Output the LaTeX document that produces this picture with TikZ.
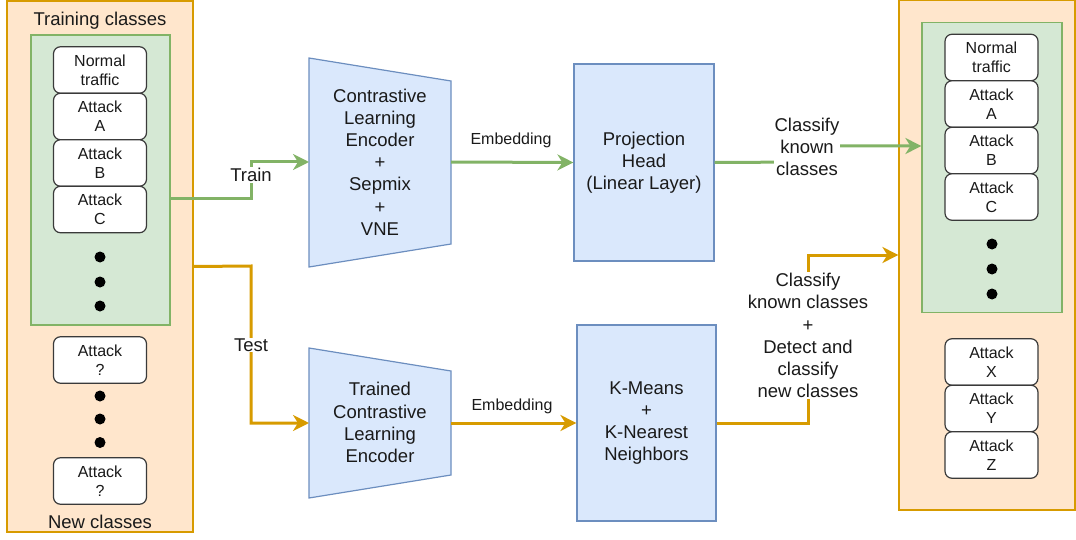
\documentclass[tikz,border=0pt]{standalone}
\usepackage{fontspec}
\setmainfont{Liberation Sans}
\usetikzlibrary{arrows.meta}
\definecolor{ofill}{HTML}{FFE6CC}
\definecolor{ostroke}{HTML}{D79B00}
\definecolor{gfill}{HTML}{D5E8D4}
\definecolor{gstroke}{HTML}{82B366}
\definecolor{bfill}{HTML}{DAE8FC}
\definecolor{bstroke}{HTML}{6C8EBF}
\definecolor{txt}{HTML}{1A1A1A}
\definecolor{cls}{HTML}{3A3A3A}
\tikzset{
  big/.style={font=\fontsize{18.5}{22.2}\selectfont, text=txt, align=center},
  small/.style={font=\fontsize{16}{19.2}\selectfont, text=txt, align=center},
  classbox/.style={small, draw=cls, line width=1.2pt, fill=white, rounded corners=7pt,
    minimum width=93pt, minimum height=46.5pt, inner sep=0pt},
  dotnode/.style={circle, fill=black, minimum size=11pt, inner sep=0pt},
  outerbox/.style={draw=ostroke, fill=ofill, line width=1.2pt, inner sep=0pt},
  greenbox/.style={draw=gstroke, fill=gfill, line width=1.2pt, inner sep=0pt},
  bluebox/.style={big, draw=bstroke, fill=bfill, line width=1.2pt, inner sep=0pt},
  tip/.style={-{Stealth[length=16pt,width=16pt,inset=5pt]}},
  garrow/.style={tip, draw=gstroke, line width=3pt},
  oarrow/.style={tip, draw=ostroke, line width=3pt},
  lbl/.style={big, fill=white, inner sep=1pt},
}
\begin{document}
\begin{tikzpicture}[x=1pt,y=-1pt]
\useasboundingbox (0,0) rectangle (1076,540);

% ---------- left column ----------
\node[outerbox, minimum width=186pt, minimum height=531pt] (L) at (100,266.5) {};
\node[greenbox, minimum width=139pt, minimum height=290pt] (LG) at (100.5,180) {};
\node[big] (trainlbl) at (100,21) {Training classes};
\node[big] (newlbl) at (100,522) {New classes};
\node[classbox] (ln) at (100,70) {Normal\\traffic};
\node[classbox] (la) at (100,116.5) {Attack\\A};
\node[classbox] (lb) at (100,163) {Attack\\B};
\node[classbox] (lc) at (100,209.5) {Attack\\C};
\node[dotnode] (ld1) at (100,257) {};
\node[dotnode] (ld2) at (100,282) {};
\node[dotnode] (ld3) at (100,306) {};
\node[classbox] (lq1) at (100,360) {Attack\\?};
\node[dotnode] (ld4) at (100,396) {};
\node[dotnode] (ld5) at (100,419) {};
\node[dotnode] (ld6) at (100,442.5) {};
\node[classbox] (lq2) at (100,481) {Attack\\?};

% ---------- right column ----------
\node[outerbox, minimum width=176pt, minimum height=510pt] (R) at (987,255) {};
\node[greenbox, minimum width=140pt, minimum height=290pt] (RG) at (992,167.5) {};
\node[classbox] (rn) at (991.5,57.5) {Normal\\traffic};
\node[classbox] (ra) at (991.5,104) {Attack\\A};
\node[classbox] (rb) at (991.5,150.5) {Attack\\B};
\node[classbox] (rc) at (991.5,197) {Attack\\C};
\node[dotnode] (rd1) at (992,244) {};
\node[dotnode] (rd2) at (992,269) {};
\node[dotnode] (rd3) at (992,294) {};
\node[classbox] (rx) at (991.5,362) {Attack\\X};
\node[classbox] (ry) at (991.5,408.5) {Attack\\Y};
\node[classbox] (rz) at (991.5,455) {Attack\\Z};

% ---------- encoders (trapezoids) ----------
\draw[draw=bstroke, fill=bfill, line width=1.2pt]
  (309,58) -- (451,81) -- (451,244) -- (309,267) -- cycle;
\node[big] (enc1) at (380,162) {Contrastive\\Learning\\Encoder\\+\\Sepmix\\+\\VNE};
\coordinate (enc1w) at (309,162);
\coordinate (enc1e) at (451,162);

\draw[draw=bstroke, fill=bfill, line width=1.2pt]
  (309,348) -- (451,371) -- (451,475) -- (309,498) -- cycle;
\node[big] (enc2) at (380,422.5) {Trained\\Contrastive\\Learning\\Encoder};
\coordinate (enc2w) at (309,423);
\coordinate (enc2e) at (451,423);

% ---------- heads ----------
\node[bluebox, minimum width=140pt, minimum height=197pt] (ph) at (644,162.5) {Projection\\Head\\(Linear Layer)};
\node[bluebox, minimum width=139pt, minimum height=196pt] (km) at (646.5,423) {K-Means\\+\\K-Nearest\\Neighbors};

% ---------- green (train) path ----------
\coordinate (trainsrc) at (LG.east |- 0,199);
\draw[garrow] (trainsrc) -- (251,199) -- (251,162) -- (enc1w);
\node[lbl] (trainl) at (251,175) {Train};
\draw[garrow] (enc1e) -- (ph.west);
\node[small] (emb1) at (511,140) {Embedding};
\coordinate (gtarget) at (RG.west |- 0,146);
\draw[garrow] (ph.east) -- (807,162) -- (807,146) -- (gtarget);
\node[lbl] (cl1) at (807,147) {Classify\\known\\classes};

% ---------- orange (test) path ----------
\draw[oarrow] (L.east) -- (251,266) -- (251,423) -- (enc2w);
\node[lbl] (testl) at (251,345) {Test};
\draw[oarrow] (enc2e) -- (km.west);
\node[small] (emb2) at (512,406) {Embedding};
\draw[oarrow] (km.east) -- (808,423) -- (808,255) -- (R.west);
\node[lbl] (cl2) at (808,335.5) {Classify\\known classes\\+\\Detect and\\classify\\new classes};
\end{tikzpicture}
\end{document}
